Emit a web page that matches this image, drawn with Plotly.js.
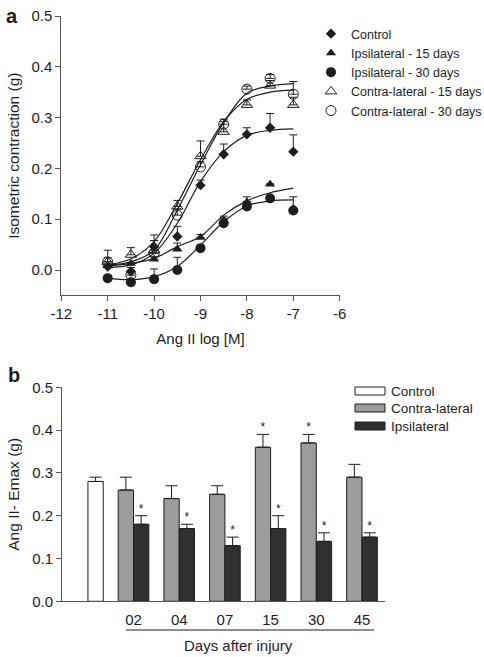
<!DOCTYPE html>
<html><head><meta charset="utf-8">
<script src="https://cdn.plot.ly/plotly-3.0.1.min.js"></script>
<style>html,body{margin:0;padding:0;background:#fff}#chart{width:484px;height:657px}</style>
</head><body><div id="chart"></div>
<script>
// ---------- Panel a data ----------
const logConc = [-11, -10.5, -10, -9.5, -9, -8.5, -8, -7.5, -7];
const controlA = [0.007, -0.003, 0.046, 0.066, 0.167, 0.228, 0.267, 0.280, 0.233];
const controlAErr = [0.005, 0.008, 0.012, 0.020, 0.010, 0.020, 0.013, 0.028, 0.033];
const ipsi15 = [0.008, 0.013, 0.021, 0.041, 0.064, 0.098, 0.134, 0.169, 0.121];
const ipsi15Err = [0, 0, 0.005, 0.012, 0.006, 0.008, 0.010, 0, 0];
const ipsi30 = [-0.016, -0.024, -0.018, 0.000, 0.043, 0.092, 0.125, 0.141, 0.117];
const ipsi30Err = [0, 0, 0.020, 0.025, 0.005, 0.010, 0.010, 0, 0.027];
const contra15 = [0.016, 0.030, 0.039, 0.125, 0.224, 0.272, 0.325, 0.363, 0.325];
const contra15Err = [0.008, 0.014, 0.030, 0.012, 0.030, 0.020, 0.010, 0.010, 0.015];
const contra30 = [0.016, -0.010, 0.033, 0.108, 0.203, 0.287, 0.356, 0.377, 0.346];
const contra30Err = [0.023, 0.008, 0.025, 0.012, 0.010, 0.010, 0.006, 0.008, 0.025];
// fitted curves
const fitControl = [0.005, 0.010, 0.033, 0.092, 0.174, 0.233, 0.265, 0.275, 0.278];
const fitIpsi15 = [0.008, 0.013, 0.023, 0.046, 0.066, 0.108, 0.136, 0.152, 0.161];
const fitIpsi30 = [-0.016, -0.019, -0.013, 0.007, 0.049, 0.095, 0.126, 0.136, 0.138];
const fitContra15 = [0.010, 0.022, 0.056, 0.131, 0.217, 0.292, 0.336, 0.350, 0.354];
const fitContra30 = [0.010, 0.016, 0.039, 0.118, 0.207, 0.290, 0.348, 0.362, 0.367];
const seriesNamesA = ['Control', 'Ipsilateral - 15 days', 'Ipsilateral - 30 days', 'Contra-lateral - 15 days', 'Contra-lateral - 30 days'];
const xTickValsA = [-12, -11, -10, -9, -8, -7, -6];
const xTickTextA = ['-12', '-11', '-10', '-9', '-8', '-7', '-6'];
const yTickValsA = [0, 0.1, 0.2, 0.3, 0.4, 0.5];
const yTickTextA = ['0.0', '0.1', '0.2', '0.3', '0.4', '0.5'];

// ---------- Panel b data ----------
const dayLabels = ['02', '04', '07', '15', '30', '45'];
const groupPos = [1, 2, 3, 4, 5, 6];
const controlPos = [0.17];
const controlEmax = [0.28];
const controlEmaxErr = [0.01];
const contraEmax = [0.26, 0.24, 0.25, 0.36, 0.37, 0.29];
const contraEmaxErr = [0.03, 0.03, 0.02, 0.03, 0.02, 0.03];
const ipsiEmax = [0.18, 0.17, 0.13, 0.17, 0.14, 0.15];
const ipsiEmaxErr = [0.02, 0.01, 0.02, 0.03, 0.02, 0.01];
const contraSig = [false, false, false, true, true, false];
const ipsiSig = [true, true, true, true, true, true];
const legendB = ['Control', 'Contra-lateral', 'Ipsilateral'];
const yTickValsB = [0, 0.1, 0.2, 0.3, 0.4, 0.5];
const yTickTextB = ['0.0', '0.1', '0.2', '0.3', '0.4', '0.5'];

// ---------- styling ----------
const FONT = 'Liberation Sans, Arial, sans-serif';
const INK = '#1e1e1e';
const W = 484, H = 657;
const px = v => v / W, py = v => 1 - v / H;
const barW = 0.335;

const traces = [];
const fits = [fitControl, fitIpsi15, fitIpsi30, fitContra15, fitContra30];
fits.forEach(f => traces.push({
  x: logConc, y: f, type: 'scatter', mode: 'lines', line: {color: INK, width: 1.2, shape: 'spline', smoothing: 1},
  showlegend: false, hoverinfo: 'skip', xaxis: 'x', yaxis: 'y'
}));
const ptSets = [
  [controlA, controlAErr, {symbol: 'diamond', size: 8, color: INK}],
  [ipsi15, ipsi15Err, {symbol: 'triangle-up', size: 9, color: INK}],
  [ipsi30, ipsi30Err, {symbol: 'circle', size: 10, color: INK}],
  [contra15, contra15Err, {symbol: 'triangle-up-open', size: 10, color: INK, line: {width: 1}}],
  [contra30, contra30Err, {symbol: 'circle-open', size: 10, color: INK, line: {width: 1}}]
];
ptSets.forEach((s, i) => traces.push({
  x: logConc, y: s[0], type: 'scatter', mode: 'markers', name: seriesNamesA[i],
  marker: s[2], cliponaxis: false,
  error_y: {type: 'data', symmetric: false, array: s[1], arrayminus: s[1].map(() => 0), color: INK, thickness: 1, width: 4},
  xaxis: 'x', yaxis: 'y'
}));

// panel b bars
traces.push({x: controlPos, y: controlEmax, type: 'bar', width: barW, offset: -barW / 2,
  marker: {color: '#ffffff', line: {color: INK, width: 1}},
  error_y: {type: 'data', symmetric: false, array: controlEmaxErr, arrayminus: [0], color: INK, thickness: 1, width: 6},
  showlegend: false, xaxis: 'x2', yaxis: 'y2'});
traces.push({x: groupPos, y: contraEmax, type: 'bar', width: barW, offset: -barW,
  marker: {color: '#9c9c9c', line: {color: INK, width: 1}},
  error_y: {type: 'data', symmetric: false, array: contraEmaxErr, arrayminus: contraEmaxErr.map(() => 0), color: INK, thickness: 1, width: 6},
  showlegend: false, xaxis: 'x2', yaxis: 'y2'});
traces.push({x: groupPos, y: ipsiEmax, type: 'bar', width: barW, offset: 0,
  marker: {color: '#303030', line: {color: INK, width: 1}},
  error_y: {type: 'data', symmetric: false, array: ipsiEmaxErr, arrayminus: ipsiEmaxErr.map(() => 0), color: INK, thickness: 1, width: 6},
  showlegend: false, xaxis: 'x2', yaxis: 'y2'});
// asterisks
const starX = [], starY = [];
groupPos.forEach((g, i) => {
  if (contraSig[i]) { starX.push(g - barW / 2); starY.push(contraEmax[i] + contraEmaxErr[i]); }
  if (ipsiSig[i]) { starX.push(g + barW / 2); starY.push(ipsiEmax[i] + ipsiEmaxErr[i]); }
});
traces.push({x: starX, y: starY, type: 'scatter', mode: 'text', text: starX.map(() => '*'),
  textposition: 'top center', textfont: {family: FONT, size: 12, color: INK},
  showlegend: false, hoverinfo: 'skip', cliponaxis: false, xaxis: 'x2', yaxis: 'y2'});

const axCommon = {showgrid: false, zeroline: false, showline: true, linecolor: '#555', linewidth: 1,
  ticks: 'outside', ticklen: 5, tickcolor: '#555', tickfont: {family: FONT, size: 15, color: INK}};

const shapes = [];
const annotations = [
  {text: '<b>a</b>', xref: 'paper', yref: 'paper', x: px(4), y: py(16), xanchor: 'left', yanchor: 'middle', showarrow: false, font: {family: FONT, size: 20, color: INK}},
  {text: '<b>b</b>', xref: 'paper', yref: 'paper', x: px(6), y: py(375), xanchor: 'left', yanchor: 'middle', showarrow: false, font: {family: FONT, size: 20, color: INK}},
  {text: 'Days after injury', xref: 'paper', yref: 'paper', x: px(238), y: py(645), xanchor: 'center', yanchor: 'middle', showarrow: false, font: {family: FONT, size: 15, color: INK}}
];
shapes.push({type: 'line', xref: 'paper', yref: 'paper', x0: px(126), x1: px(374), y0: py(630), y1: py(630), line: {color: INK, width: 1}});
const legFill = ['#ffffff', '#9c9c9c', '#303030'];
const legY = [391, 408, 426];
legendB.forEach((t, i) => {
  shapes.push({type: 'rect', xref: 'paper', yref: 'paper', x0: px(355), x1: px(385), y0: py(legY[i] - 4), y1: py(legY[i] + 4),
    fillcolor: legFill[i], line: {color: INK, width: 1}});
  annotations.push({text: t, xref: 'paper', yref: 'paper', x: px(389), y: py(legY[i]), xanchor: 'left', yanchor: 'middle',
    showarrow: false, font: {family: FONT, size: 13.5, color: INK}});
});

const layout = {
  width: W, height: H, margin: {l: 0, r: 0, t: 0, b: 0, autoexpand: false}, paper_bgcolor: '#fff', plot_bgcolor: '#fff',
  font: {family: FONT, color: INK},
  showlegend: true,
  legend: {x: px(311), y: py(19), xanchor: 'left', yanchor: 'top', bgcolor: 'rgba(0,0,0,0)',
    font: {family: FONT, size: 12.5, color: INK}, itemwidth: 30, tracegroupgap: 0},
  xaxis: Object.assign({}, axCommon, {domain: [px(61.3), px(339.7)], range: [-12, -6], anchor: 'y', automargin: false,
    tickvals: xTickValsA, ticktext: xTickTextA,
    title: {text: 'Ang II log [M]', font: {family: FONT, size: 15, color: INK}, standoff: 12}}),
  yaxis: Object.assign({}, axCommon, {domain: [1 - 295.4 / H, 1 - 16 / H], range: [-0.05, 0.5], anchor: 'x', automargin: false,
    tickvals: yTickValsA, ticktext: yTickTextA,
    title: {text: 'Isometric contraction (g)', font: {family: FONT, size: 15.5, color: INK}, standoff: 8}}),
  xaxis2: Object.assign({}, axCommon, {domain: [px(62), px(385)], range: [-0.565, 6.503], anchor: 'y2', automargin: false,
    tickvals: groupPos, ticktext: dayLabels, ticks: '', ticklen: 0, ticklabelstandoff: 5}),
  yaxis2: Object.assign({}, axCommon, {domain: [1 - 601.3 / H, 1 - 387.3 / H], range: [0, 0.5], anchor: 'x2', automargin: false,
    tickvals: yTickValsB, ticktext: yTickTextB,
    title: {text: 'Ang II- Emax (g)', font: {family: FONT, size: 15.5, color: INK}, standoff: 8}}),
  barmode: 'overlay',
  shapes: shapes, annotations: annotations
};
Plotly.newPlot('chart', traces, layout, {displayModeBar: false, staticPlot: true});
</script></body></html>
